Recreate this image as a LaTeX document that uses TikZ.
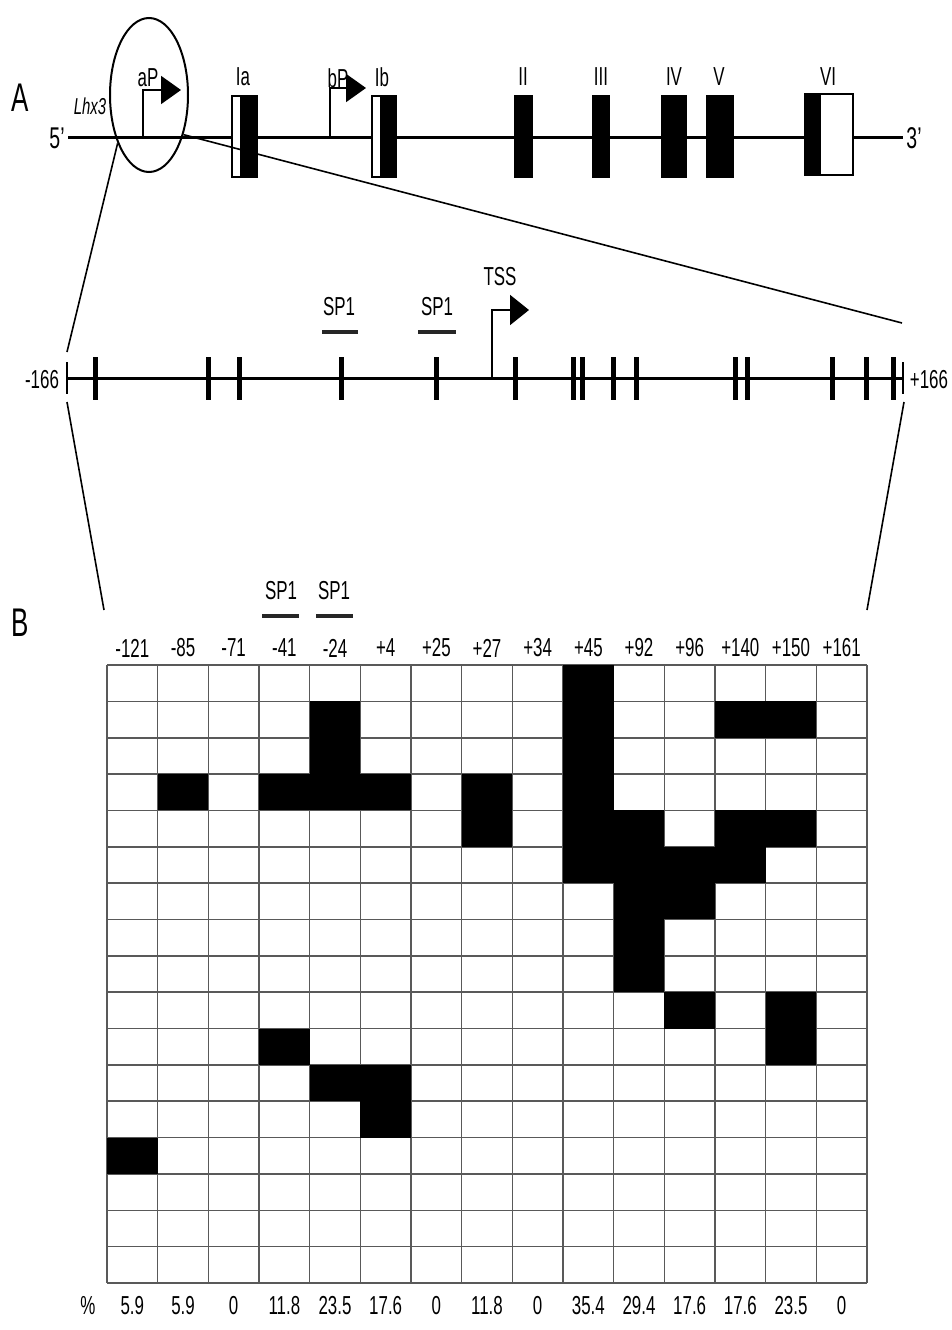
\documentclass[tikz,border=0pt]{standalone}
\usepackage{fontspec}
\setmainfont{Liberation Sans}[FakeStretch=0.65]
\usetikzlibrary{arrows.meta,shapes.geometric}
\begin{document}
\begin{tikzpicture}[x=1pt,y=-1pt,
  lbl/.style={inner sep=0pt, font=\fontsize{26}{28}\selectfont},
  big/.style={inner sep=0pt, font=\fontsize{30}{32}\selectfont},
  panel/.style={inner sep=0pt, font=\fontsize{40}{44}\selectfont},
  gene/.style={line width=3pt},
  thinl/.style={line width=1.6pt},
  exonb/.style={fill=black, draw=black, line width=1.8pt},
  exonw/.style={fill=white, draw=black, line width=1.8pt},
  cpg/.style={line width=5pt},
  prom/.style={line width=2pt, -{Triangle[length=20pt,width=28pt]}},
  sp/.style={line width=3.5pt, black!85},
  gridl/.style={line width=1.6pt, black!65},
  cell/.style={fill=black}]
\useasboundingbox (0,0) rectangle (952,1330);
\fill[white] (0,0) rectangle (952,1330);

% ---------- panel A : gene ----------
\node[panel] (A) at (20,98) {A};
\coordinate (g5) at (68,137);
\coordinate (g3) at (903,137);
\draw[gene] (g5) -- (g3);
\node[big] (five) at (57,138) {5'};
\node[big] (three) at (914,138) {3'};
\node[inner sep=0pt, font=\fontsize{23}{25}\selectfont\itshape] (lhx) at (90,106) {Lhx3};

% exons
\draw[exonw] (232,96) rectangle (241,177);
\draw[exonb] (241,96) rectangle (257,177);
\draw[exonw] (372,96) rectangle (381,177);
\draw[exonb] (381,96) rectangle (396,177);
\draw[exonb] (515,96) rectangle (532,177);
\draw[exonb] (593,96) rectangle (609,177);
\draw[exonb] (662,96) rectangle (686,177);
\draw[exonb] (707,96) rectangle (733,177);
\draw[exonb] (805,94) rectangle (820,175);
\draw[exonw] (820,94) rectangle (853,175);
\node[lbl] (Ia) at (243,77) {Ia};
\node[lbl] (Ib) at (382,77) {Ib};
\node[lbl] (II) at (523,77) {II};
\node[lbl] (III) at (601,77) {III};
\node[lbl] (IV) at (674,77) {IV};
\node[lbl] (V) at (719,77) {V};
\node[lbl] (VI) at (828,77) {VI};

% promoters
\coordinate (aP0) at (143,137);
\coordinate (aP1) at (143,90);
\coordinate (aP2) at (181,90);
\draw[prom] (aP0) -- (aP1) -- (aP2);
\node[lbl] (aP) at (148,78) {aP};
\coordinate (bP0) at (330,137);
\coordinate (bP1) at (330,88);
\coordinate (bP2) at (366,88);
\draw[prom] (bP0) -- (bP1) -- (bP2);
\node[lbl] (bP) at (338,78) {bP};

% circle around aP
\node[draw, ellipse, line width=2pt, minimum width=78pt, minimum height=154pt, inner sep=0pt] (circ) at (149,95) {};

% ---------- zoomed promoter ----------
\coordinate (m0) at (67,378);
\coordinate (m1) at (903,378);
\draw[gene] (m0) -- (m1);
\draw[line width=1.6pt] (67,362) -- (67,394);
\draw[line width=1.6pt] (903,362) -- (903,394);
\node[lbl] (mL) at (42,380) {-166};
\node[lbl] (mR) at (929,380) {+166};
\foreach \x [count=\i] in {95,208,239,341,436,515,573,582,613,636,735,747,832,866,893}
  \draw[cpg] (\x,357) -- (\x,400);

% zoom lines
\coordinate (zl) at (67,352);
\coordinate (zr) at (902,323);
\draw[thinl] (circ.-123) -- (zl);
\draw[thinl] (circ.-49) -- (zr);

% TSS
\coordinate (t0) at (492,378);
\coordinate (t1) at (492,310);
\coordinate (t2) at (529,310);
\draw[prom, -{Triangle[length=19pt,width=30pt]}] (t0) -- (t1) -- (t2);
\node[lbl] (TSS) at (500,277) {TSS};

% SP1 sites
\node[lbl] (sp1a) at (339,307) {SP1};
\draw[sp] (322,332) -- (358,332);
\node[lbl] (sp1b) at (437,307) {SP1};
\draw[sp] (418,332) -- (456,332);

% lines to panel B
\coordinate (dl0) at (67,402);
\coordinate (dl1) at (104,610);
\coordinate (dr0) at (904,402);
\coordinate (dr1) at (867,610);
\draw[thinl] (dl0) -- (dl1);
\draw[thinl] (dr0) -- (dr1);

% ---------- panel B : grid ----------
\node[panel] (B) at (20,623) {B};
\node[lbl] (spb1) at (281,591) {SP1};
\draw[sp] (262,616) -- (299,616);
\node[lbl] (spb2) at (334,591) {SP1};
\draw[sp] (316,616) -- (353,616);

\foreach \t [count=\i] in {-121,-85,-71,-41,-24,+4,+25,+27,+34,+45,+92,+96,+140,+150,+161}
  \node[lbl] (h\i) at ({107+50.667*(\i-0.5)},648) {\t};
\foreach \t [count=\i] in {5.9,5.9,0,11.8,23.5,17.6,0,11.8,0,35.4,29.4,17.6,17.6,23.5,0}
  \node[lbl] (p\i) at ({107+50.667*(\i-0.5)},1306) {\t};
\node[lbl] (pct) at (88,1306) {\%};

\foreach \i in {0,...,15}
  \draw[gridl] ({107+50.667*\i},665) -- ({107+50.667*\i},1283);
\foreach \j in {0,...,17}
  \draw[gridl] (107,{665+36.353*\j}) -- (867,{665+36.353*\j});

\foreach \c/\r in {0/13,1/3,3/3,3/10,4/1,4/2,4/3,4/11,5/3,5/11,5/12,7/3,7/4,
  9/0,9/1,9/2,9/3,9/4,9/5,10/4,10/5,10/6,10/7,10/8,11/5,11/6,11/9,
  12/1,12/4,12/5,13/1,13/4,13/9,13/10}
  \fill[cell] ({107+50.667*\c},{665+36.353*\r}) rectangle ({107+50.667*(\c+1)},{665+36.353*(\r+1)});
\end{tikzpicture}
\end{document}
